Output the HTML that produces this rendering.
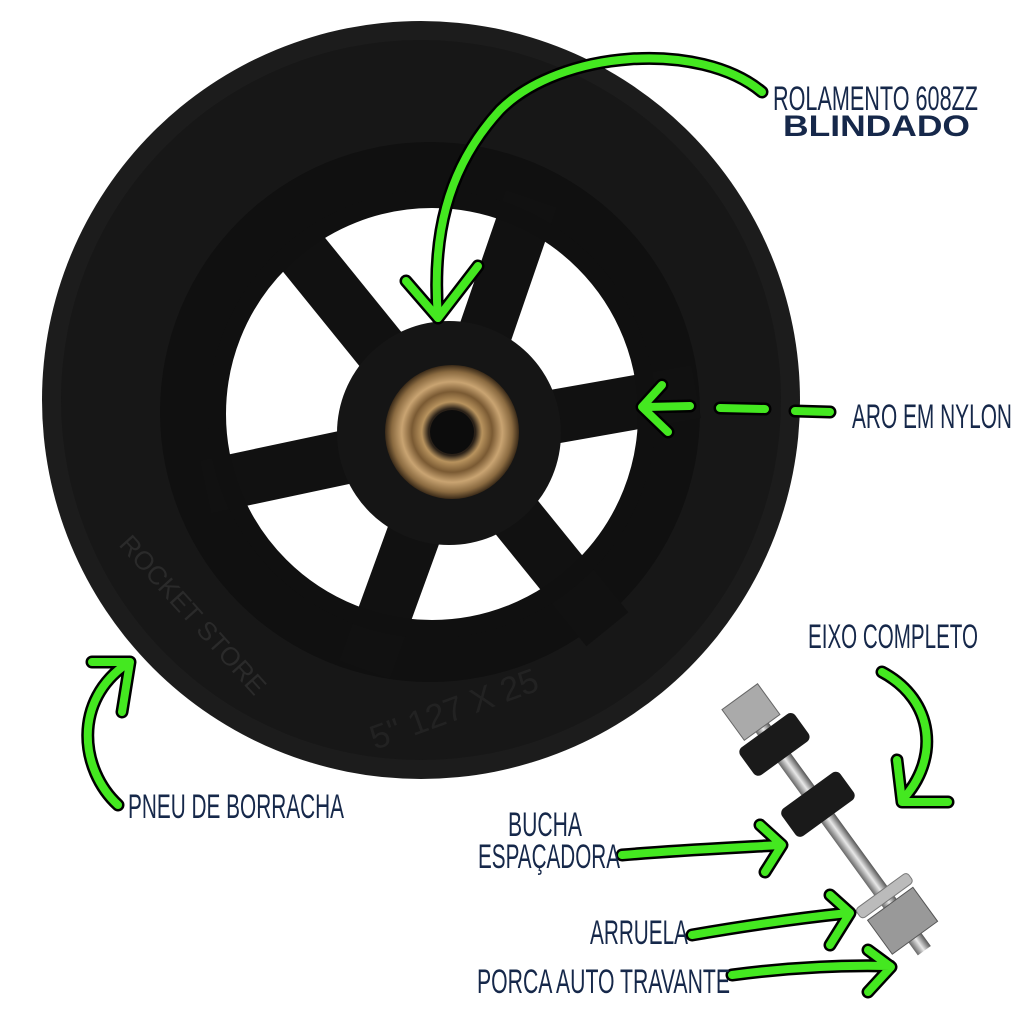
<!DOCTYPE html>
<html><head><meta charset="utf-8"><style>html,body{margin:0;padding:0;background:#fff;width:1024px;height:1024px;overflow:hidden}</style></head>
<body>
<svg width="1024" height="1024" viewBox="0 0 1024 1024" xmlns="http://www.w3.org/2000/svg">
<defs>
<radialGradient id="brz" cx="50%" cy="50%" r="50%">
<stop offset="0.35" stop-color="#2a2118"/><stop offset="0.45" stop-color="#b8935e"/><stop offset="0.6" stop-color="#7a5a33"/><stop offset="0.75" stop-color="#c9a472"/><stop offset="0.9" stop-color="#8a6a40"/><stop offset="1" stop-color="#3a2a18"/>
</radialGradient>
<linearGradient id="steel" x1="0" y1="0" x2="1" y2="0"><stop offset="0" stop-color="#666"/><stop offset="0.5" stop-color="#e8e8e8"/><stop offset="1" stop-color="#555"/></linearGradient>
</defs>
<circle cx="421" cy="400" r="379" fill="#1c1c1c"/>
<circle cx="421" cy="400" r="360" fill="#171717"/>
<circle cx="430" cy="412" r="270" fill="#101010"/>
<circle cx="432" cy="414" r="207" fill="#fff"/>
<g transform="translate(450,435)" fill="#111">
<rect x="0" y="-27" width="250" height="54" transform="rotate(-129)"/>
<rect x="0" y="-27" width="250" height="54" transform="rotate(-71)"/>
<rect x="0" y="-27" width="250" height="54" transform="rotate(-10)"/>
<rect x="0" y="-27" width="250" height="54" transform="rotate(51)"/>
<rect x="0" y="-27" width="250" height="54" transform="rotate(110)"/>
<rect x="0" y="-27" width="250" height="54" transform="rotate(168)"/>
</g>
<circle cx="432" cy="414" r="215" fill="none" stroke="#101010" stroke-width="18"/>
<circle cx="449" cy="433" r="112" fill="#151515"/>
<circle cx="452" cy="432" r="67" fill="url(#brz)"/>
<circle cx="452" cy="432" r="22" fill="#0c0c0c"/>
<text x="0" y="0" transform="translate(118,545) rotate(48)" font-family="Liberation Sans,sans-serif" font-size="26" fill="#2a2a2a">ROCKET STORE</text>
<text x="0" y="0" transform="translate(375,750) rotate(-20)" font-family="Liberation Sans,sans-serif" font-size="34" fill="#222">5" 127 X 25</text>
<g transform="translate(748,708) rotate(-36)">
<rect x="-8" y="0" width="16" height="300" fill="url(#steel)"/>
<rect x="-22" y="-14" width="44" height="38" fill="#aaa" stroke="#666"/>
<rect x="-34" y="28" width="68" height="34" rx="6" fill="#1a1a1a"/>
<rect x="-36" y="102" width="72" height="34" rx="6" fill="#1a1a1a"/>
<rect x="-32" y="226" width="64" height="12" rx="4" fill="#bbb" stroke="#777"/>
<rect x="-28" y="242" width="56" height="42" fill="#999" stroke="#555"/>
</g>
<g fill="none" stroke-linecap="round" stroke-linejoin="round">
<g stroke="#000" stroke-width="13">
<path d="M762,92 C700,40 560,50 500,110 C445,170 432,240 438,318"/><path d="M406,281 L438,318 L478,266"/>
<path d="M662,385 L642,407 L668,432 M646,407 L690,406 M720,408 L765,409 M795,411 L830,412"/>
<path d="M118,805 C80,770 72,700 128,663 M92,662 L130,662 L122,712"/>
<path d="M882,672 C935,700 940,760 902,800 M897,760 L902,802 L948,802"/>
<path d="M622,855 C680,850 730,848 780,845 M760,825 L782,845 L765,872"/>
<path d="M692,935 C750,925 800,918 848,913 M830,895 L850,913 L830,945"/>
<path d="M732,975 C800,966 850,965 890,966 M868,950 L891,967 L868,992"/>
</g>
<g stroke="#44e820" stroke-width="8">
<path d="M762,92 C700,40 560,50 500,110 C445,170 432,240 438,318"/><path d="M406,281 L438,318 L478,266"/>
<path d="M662,385 L642,407 L668,432 M646,407 L690,406 M720,408 L765,409 M795,411 L830,412"/>
<path d="M118,805 C80,770 72,700 128,663 M92,662 L130,662 L122,712"/>
<path d="M882,672 C935,700 940,760 902,800 M897,760 L902,802 L948,802"/>
<path d="M622,855 C680,850 730,848 780,845 M760,825 L782,845 L765,872"/>
<path d="M692,935 C750,925 800,918 848,913 M830,895 L850,913 L830,945"/>
<path d="M732,975 C800,966 850,965 890,966 M868,950 L891,967 L868,992"/>
</g>
</g>
<g font-family="Liberation Sans,sans-serif" fill="#16284a" font-size="34">
<text x="773" y="110" textLength="205" lengthAdjust="spacingAndGlyphs">ROLAMENTO 608ZZ</text>
<text x="783" y="136" textLength="187" lengthAdjust="spacingAndGlyphs" font-weight="bold" font-size="30">BLINDADO</text>
<text x="852" y="428" textLength="160" lengthAdjust="spacingAndGlyphs">ARO EM NYLON</text>
<text x="808" y="648" textLength="170" lengthAdjust="spacingAndGlyphs">EIXO COMPLETO</text>
<text x="128" y="818" textLength="216" lengthAdjust="spacingAndGlyphs">PNEU DE BORRACHA</text>
<text x="508" y="836" textLength="74" lengthAdjust="spacingAndGlyphs">BUCHA</text>
<text x="478" y="868" textLength="142" lengthAdjust="spacingAndGlyphs">ESPAÇADORA</text>
<text x="590" y="944" textLength="98" lengthAdjust="spacingAndGlyphs">ARRUELA</text>
<text x="477" y="993" textLength="253" lengthAdjust="spacingAndGlyphs">PORCA AUTO TRAVANTE</text>
</g>
</svg>
</body></html>
